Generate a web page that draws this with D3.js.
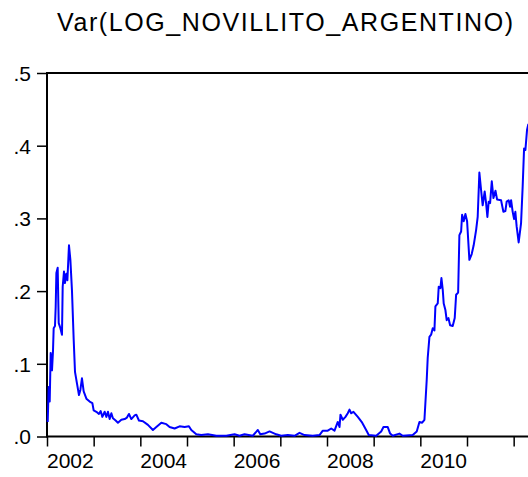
<!DOCTYPE html>
<html>
<head>
<meta charset="utf-8">
<script src="https://cdn.jsdelivr.net/npm/d3@7"></script>
<style>
  body { margin: 0; background: #fff; }
  .canvas { width: 528px; height: 477px; overflow: hidden; }
  text { font-family: "Liberation Sans", Arial, sans-serif; fill: #000; }
</style>
</head>
<body>
<div class="canvas"></div>
<script>
const title = "Var(LOG_NOVILLITO_ARGENTINO)";

// time in decimal years
const dates = [
  2002.015, 2002.036, 2002.058, 2002.079, 2002.107, 2002.128, 2002.143, 2002.171,
  2002.186, 2002.201, 2002.229, 2002.251, 2002.287, 2002.321, 2002.336, 2002.364,
  2002.385, 2002.415, 2002.437, 2002.471, 2002.501, 2002.535, 2002.572, 2002.600,
  2002.642, 2002.685, 2002.715, 2002.749, 2002.786, 2002.844, 2002.914, 2002.972,
  2003.000, 2003.058, 2003.113, 2003.150, 2003.186, 2003.236, 2003.272, 2003.306,
  2003.343, 2003.379, 2003.413, 2003.471, 2003.520, 2003.593, 2003.664, 2003.713,
  2003.756, 2003.807, 2003.878, 2003.914, 2003.970, 2004.056, 2004.163, 2004.270,
  2004.343, 2004.450, 2004.557, 2004.627, 2004.734, 2004.842, 2004.949, 2005.041,
  2005.092, 2005.199, 2005.306, 2005.448, 2005.627, 2005.842, 2006.019, 2006.126,
  2006.233, 2006.411, 2006.518, 2006.570, 2006.662, 2006.769, 2006.912, 2007.019,
  2007.161, 2007.304, 2007.411, 2007.518, 2007.696, 2007.839, 2007.910, 2008.017,
  2008.090, 2008.161, 2008.231, 2008.268, 2008.289, 2008.338, 2008.396, 2008.445,
  2008.482, 2008.518, 2008.567, 2008.660, 2008.754, 2008.839, 2008.895, 2009.054,
  2009.161, 2009.210, 2009.302, 2009.353, 2009.409, 2009.552, 2009.623, 2009.837,
  2009.923, 2009.981, 2010.039, 2010.088, 2010.137, 2010.158, 2010.195, 2010.231,
  2010.266, 2010.302, 2010.323, 2010.373, 2010.394, 2010.430, 2010.452, 2010.480,
  2010.501, 2010.537, 2010.565, 2010.602, 2010.638, 2010.694, 2010.737, 2010.767,
  2010.810, 2010.837, 2010.874, 2010.895, 2010.929, 2010.966, 2011.002, 2011.051,
  2011.101, 2011.143, 2011.195, 2011.229, 2011.265, 2011.302, 2011.336, 2011.379,
  2011.409, 2011.437, 2011.465, 2011.495, 2011.531, 2011.567, 2011.610, 2011.645,
  2011.730, 2011.780, 2011.822, 2011.850, 2011.893, 2011.923, 2011.945, 2011.979,
  2012.009, 2012.036, 2012.064, 2012.107, 2012.158, 2012.193, 2012.223, 2012.251,
  2012.287, 2012.315,
];

const variance = [
  0.020, 0.068, 0.048, 0.115, 0.091, 0.117, 0.149, 0.152,
  0.178, 0.225, 0.232, 0.156, 0.149, 0.140, 0.206, 0.227,
  0.211, 0.224, 0.215, 0.263, 0.243, 0.201, 0.133, 0.089,
  0.073, 0.057, 0.064, 0.080, 0.062, 0.052, 0.048, 0.046,
  0.036, 0.034, 0.031, 0.035, 0.027, 0.034, 0.027, 0.034,
  0.024, 0.032, 0.025, 0.022, 0.019, 0.023, 0.024, 0.026,
  0.031, 0.024, 0.029, 0.030, 0.022, 0.021, 0.016, 0.009,
  0.013, 0.019, 0.017, 0.013, 0.011, 0.014, 0.013, 0.014,
  0.009, 0.003, 0.002, 0.003, 0.001, 0.001, 0.003, 0.001,
  0.003, 0.001, 0.009, 0.003, 0.004, 0.007, 0.003, 0.001,
  0.002, 0.001, 0.005, 0.002, 0.001, 0.002, 0.008, 0.008,
  0.011, 0.008, 0.020, 0.013, 0.030, 0.023, 0.027, 0.032,
  0.037, 0.032, 0.034, 0.027, 0.019, 0.009, 0.002, 0.001,
  0.007, 0.013, 0.013, 0.004, 0.001, 0.004, 0.001, 0.002,
  0.007, 0.020, 0.019, 0.023, 0.078, 0.108, 0.137, 0.140,
  0.149, 0.146, 0.179, 0.183, 0.206, 0.204, 0.218, 0.202,
  0.183, 0.174, 0.160, 0.163, 0.153, 0.152, 0.163, 0.195,
  0.198, 0.277, 0.282, 0.305, 0.296, 0.306, 0.296, 0.243,
  0.251, 0.263, 0.284, 0.302, 0.363, 0.339, 0.318, 0.337,
  0.321, 0.302, 0.323, 0.321, 0.351, 0.328, 0.338, 0.326,
  0.325, 0.309, 0.310, 0.323, 0.325, 0.316, 0.325, 0.309,
  0.299, 0.309, 0.289, 0.267, 0.293, 0.344, 0.396, 0.394,
  0.422, 0.430,
];

const yTicks = [0, 0.1, 0.2, 0.3, 0.4, 0.5];
const yearTicks = [2002, 2003, 2004, 2005, 2006, 2007, 2008, 2009, 2010, 2011, 2012];
const yearLabels = [2002, 2004, 2006, 2008, 2010];

function tickText(v) {
  return d3.format(".1f")(v).replace(/^0/, "");
}

function setup() {
  const margin = { top: 73, left: 47, bottom: 40.5 };
  const W = 528;
  const H = 477;
  const plotW = 490; // plot runs past the right edge of the window
  const plotH = H - margin.top - margin.bottom;

  const x = d3.scaleLinear().domain([2002, 2012.5]).range([0, plotW]);
  const y = d3.scaleLinear().domain([0, 0.5]).range([plotH, 0]);

  const svg = d3
    .select(".canvas")
    .append("svg")
    .attr("width", W)
    .attr("height", H);

  svg
    .append("text")
    .attr("x", 57)
    .attr("y", 30.5)
    .attr("textLength", 456)
    .attr("lengthAdjust", "spacing")
    .style("font-size", "25px")
    .text(title);

  const chart = svg
    .append("g")
    .attr("transform", `translate(${margin.left}, ${margin.top})`);

  const yAxis = d3
    .axisLeft(y)
    .tickValues(yTicks)
    .tickSize(10)
    .tickPadding(6)
    .tickFormat(tickText);

  const xAxis = d3
    .axisBottom(x)
    .tickValues(yearTicks)
    .tickSize(10)
    .tickFormat("");

  const gy = chart.append("g").attr("class", "axis").call(yAxis);
  gy.select(".domain").remove();
  gy.selectAll("line").attr("stroke", "#000").attr("stroke-width", 1.5);
  gy.selectAll("text")
    .style("font-size", "21px")
    .attr("font-family", null)
    .attr("dy", "0.35em");

  const gx = chart
    .append("g")
    .attr("class", "axis")
    .attr("transform", `translate(0, ${plotH})`)
    .call(xAxis);
  gx.select(".domain").remove();
  gx.selectAll("line").attr("stroke", "#000").attr("stroke-width", 1.5);

  chart
    .append("g")
    .selectAll("text")
    .data(yearLabels)
    .enter()
    .append("text")
    .attr("x", (d) => x(d + 0.5))
    .attr("y", plotH + 31.5)
    .attr("text-anchor", "middle")
    .style("font-size", "21px")
    .text((d) => d);

  // frame: left, top, bottom
  chart
    .append("path")
    .attr("d", `M${plotW},0H0V${plotH}H${plotW}`)
    .attr("fill", "none")
    .attr("stroke", "#000")
    .attr("stroke-width", 2);

  const line = d3
    .line()
    .x((d, i) => x(dates[i]))
    .y((d) => y(d));

  chart
    .append("path")
    .datum(variance)
    .attr("d", line)
    .attr("fill", "none")
    .attr("stroke", "#0000ff")
    .attr("stroke-width", 2)
    .attr("stroke-linejoin", "round");
}

setup();
</script>
</body>
</html>
